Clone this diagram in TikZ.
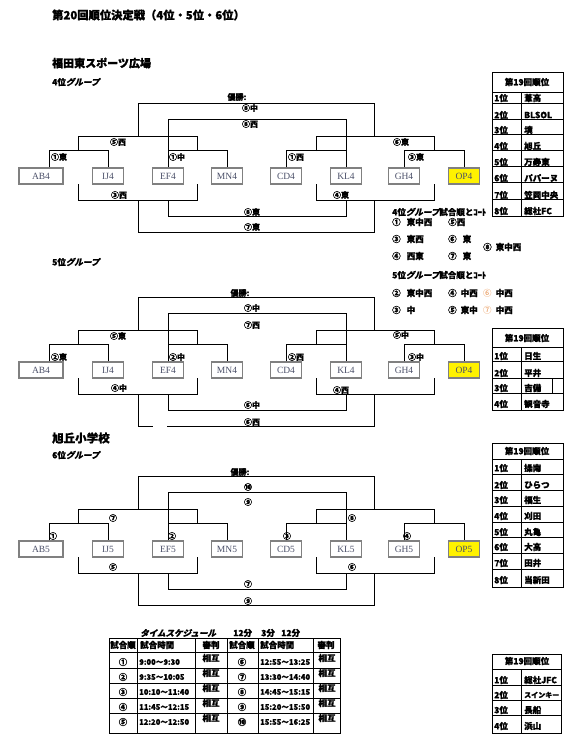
\documentclass[tikz,border=0pt]{standalone}
\usepackage{fontspec}
\newfontfamily\jp{Noto Sans CJK JP}[BoldFeatures={FakeBold=1.2}]
\newfontfamily\jpsl{Noto Sans CJK JP}[FakeSlant=0.25, BoldFeatures={FakeBold=1.2}]
\newfontfamily\tm{Liberation Serif}
\definecolor{teamtxt}{RGB}{75,80,105}
\definecolor{boxline}{RGB}{128,128,128}
\definecolor{ordcol}{RGB}{230,140,70}

\tikzset{
  team/.style={draw=boxline, line width=1.4pt, fill=white, minimum width=31pt,
    minimum height=16pt, inner sep=0pt, text=teamtxt, font=\tm\fontsize{9.5}{10}\selectfont},
  win/.style={team, fill=yellow},
  lbl/.style={inner sep=0pt, font=\jp\bfseries\fontsize{8}{8}\selectfont},
  head/.style={inner sep=0pt, anchor=west, font=\jp\bfseries\fontsize{11.3}{12}\selectfont},
  sub/.style={inner sep=0pt, anchor=west, font=\jp\bfseries\fontsize{8.5}{9}\selectfont},
  cell/.style={inner sep=0pt, font=\jp\bfseries\fontsize{8.5}{9}\selectfont},
  clock/.style={cell, anchor=west, font=\jp\bfseries\fontsize{7.6}{8}\selectfont},
  link/.style={line width=0.8pt},
  grid/.style={line width=0.8pt},
}

% one bracket: #1 prefix, #2 number on the boxes, #3 shift down, #4 start of last line
\newcommand{\drawgroup}[4]{%
  \begin{scope}[yshift=-#3pt]
    % Define nodes
    \node[team, minimum width=44pt] (#1ab) at (41,176) {AB#2};
    \node[team] (#1ij) at (108,176) {IJ#2};
    \node[team] (#1ef) at (168,176) {EF#2};
    \node[team] (#1mn) at (227,176) {MN#2};
    \node[team] (#1cd) at (286,176) {CD#2};
    \node[team] (#1kl) at (346,176) {KL#2};
    \node[team] (#1gh) at (404,176) {GH#2};
    \node[win] (#1op) at (464,176) {OP#2};
    \path (78.5,151) coordinate (#1j1) (197.5,151) coordinate (#1j2)
          (316,151) coordinate (#1j3) (434,151) coordinate (#1j4)
          (78.5,184) coordinate (#1f1) (197.5,184) coordinate (#1f2)
          (316,184) coordinate (#1f3) (434,184) coordinate (#1f4);
    % Connect nodes
    \draw[link] ([xshift=8pt]#1ab.north) -- ++(0,-17) -| (#1ij.north);
    \draw[link] (#1ef.north) -- ++(0,-17) -| (#1mn.north);
    \draw[link] (#1cd.north) -- ++(0,-17) -| (#1kl.north);
    \draw[link] (#1gh.north) -- ++(0,-17) -| (#1op.north);
    \draw[link] (#1j1) -- ++(0,-15) -| (#1j2);
    \draw[link] (#1j3) -- ++(0,-15) -| (#1j4);
    \draw[link] (138,136) |- (374,103) -- (374,136);
    \draw[link] (168,151) |- (346,119) -- (346,151);
    \draw[link] (#1f1) -- ++(0,16) -| (#1f2);
    \draw[link] (#1f3) -- ++(0,16) -| (#1f4);
    \draw[link] (168,200) |- (346,216) -- (346,200);
    \draw[link] (138,200) |- (153,232);
    \draw[link] (#4,232) -| (374,200);
  \end{scope}
}

\begin{document}
\begin{tikzpicture}[x=1pt,y=-1pt]
  \useasboundingbox (0,0) rectangle (571,749);

  % Headings
  \node[head] (title) at (52,15) {第20回順位決定戦（4位・5位・6位）};
  \node[head, font=\jp\bfseries\fontsize{11}{12}\selectfont] (place1) at (52,63) {福田東スポーツ広場};
  \node[sub] (g4) at (52,82) {4位{\jpsl\bfseries グループ}};
  \node[sub] (g5) at (52,262) {5位{\jpsl\bfseries グループ}};
  \node[head, font=\jp\bfseries\fontsize{11.5}{12}\selectfont] (place2) at (52,438) {旭丘小学校};
  \node[sub] (g6) at (52,455) {6位{\jpsl\bfseries グループ}};

  % Brackets
  \drawgroup{a}{4}{0}{153}
  \drawgroup{b}{4}{194}{167}
  \drawgroup{c}{5}{373}{153}

  % Match labels
  \foreach \t/\x/\y [count=\i] in {優勝:/237/97, ⑧中/250/108, ⑧西/250/124,
      ⑤西/118/142, ⑥東/401/142, ①東/59/157, ①中/177/157, ①西/296/157,
      ③東/416/157, ③西/119/195, ④東/341/195, ⑧東/252/212, ⑦東/252/227}
    \node[lbl] (la\i) at (\x,\y) {\t};
  \foreach \t/\x/\y [count=\i] in {優勝:/240/293, ⑦中/252/308, ⑦西/252/325,
      ⑤東/118/336, ⑤中/401/335, ②東/59/357, ②中/177/357, ②西/296/357,
      ③中/416/357, ④中/119/388, ④西/341/390, ⑥中/252/405, ⑥西/252/422}
    \node[lbl] (lb\i) at (\x,\y) {\t};
  \foreach \t/\x/\y [count=\i] in {優勝:/240/472, ⑩/248/487, ⑨/248/502,
      ⑦/113/518, ⑧/352/518, ①/53/536, ②/172/536, ③/287/536, ④/407/536,
      ⑤/113/567, ⑥/352/567, ⑦/248/584, ⑨/248/601}
    \node[lbl] (lc\i) at (\x,\y) {\t};

  % Match order and courts
  \node[sub] (k4) at (392,212) {4位{\jpsl\bfseries グループ}試合順とｺｰﾄ};
  \node[sub] (k4a) at (392,222) {①\hspace{6pt}東中西};
  \node[sub] (k4b) at (448,222) {⑤西};
  \node[sub] (k4c) at (392,239) {③\hspace{6pt}東西};
  \node[sub] (k4d) at (448,239) {⑥\hspace{6pt}東};
  \node[sub] (k4e) at (392,256) {④\hspace{6pt}西東};
  \node[sub] (k4f) at (448,256) {⑦\hspace{6pt}東};
  \node[sub] (k4g) at (483,247) {⑧\hspace{4pt}東中西};
  \node[sub] (k5) at (392,275) {5位{\jpsl\bfseries グループ}試合順とｺｰﾄ};
  \node[sub] (k5a) at (392,293) {②\hspace{6pt}東中西};
  \node[sub] (k5b) at (448,293) {④\hspace{4pt}中西};
  \node[sub] (k5c) at (483,293) {{\color{ordcol}\mdseries ⑥}\hspace{4pt}中西};
  \node[sub] (k5d) at (392,310) {③\hspace{6pt}中};
  \node[sub] (k5e) at (448,310) {⑤\hspace{4pt}東中};
  \node[sub] (k5f) at (483,310) {{\color{ordcol}\mdseries ⑦}\hspace{4pt}中西};

  % Last year's ranking tables
  \draw[grid] (492,72) rectangle (563,216) (492,92) -- (563,92) (521,92) -- (521,216);
  \foreach \y in {103,119,134,150,166,182,199} \draw[grid] (492,\y) -- (563,\y);
  \node[cell] (ta) at (527,82) {第19回順位};
  \foreach \r/\n/\y [count=\i] in {1位/葦高/98, 2位/BLSOL/115, 3位/境/130, 4位/旭丘/146,
      5位/万寿東/162, 6位/パパーヌ/178, 7位/笠岡中央/195, 8位/総社FC/211} {
    \node[cell, anchor=west] (ta\i) at (494,\y) {\r};
    \node[cell, anchor=west] (tan\i) at (524,\y) {\n};
  }

  \draw[grid] (492,328) rectangle (563,410) (492,347) -- (563,347) (521,347) -- (521,410)
    (552,378) -- (552,393);
  \foreach \y in {361,378,393} \draw[grid] (492,\y) -- (563,\y);
  \node[cell] (tb) at (527,338) {第19回順位};
  \foreach \r/\n/\y [count=\i] in {1位/日生/356, 2位/平井/373, 3位/吉備/388, 4位/観音寺/404} {
    \node[cell, anchor=west] (tb\i) at (494,\y) {\r};
    \node[cell, anchor=west] (tbn\i) at (524,\y) {\n};
  }

  \draw[grid] (492,443) rectangle (563,587) (492,459) -- (563,459) (521,459) -- (521,587);
  \foreach \y in {474,490,506,522,537,553,569} \draw[grid] (492,\y) -- (563,\y);
  \node[cell] (tc) at (527,451) {第19回順位};
  \foreach \r/\n/\y [count=\i] in {1位/操南/468, 2位/ひらつ/485, 3位/福生/500, 4位/刈田/516,
      5位/丸亀/532, 6位/大高/547, 7位/田井/563, 8位/当新田/580} {
    \node[cell, anchor=west] (tc\i) at (494,\y) {\r};
    \node[cell, anchor=west] (tcn\i) at (524,\y) {\n};
  }

  \draw[grid] (492,654) rectangle (561,733) (492,669) -- (561,669) (521,669) -- (521,733);
  \foreach \y in {685,700,715} \draw[grid] (492,\y) -- (561,\y);
  \node[cell] (td) at (527,661) {第19回順位};
  \foreach \r/\n/\y [count=\i] in {1位/総社JFC/680, 2位/{\fontsize{7}{8}\selectfont スインキー}/695,
      3位/長船/710, 4位/浜山/726} {
    \node[cell, anchor=west] (td\i) at (494,\y) {\r};
    \node[cell, anchor=west] (tdn\i) at (524,\y) {\n};
  }

  % Time schedule
  \node[sub] (ts) at (140,633) {\jpsl\bfseries タイムスケジュール};
  \node[sub] (tsa) at (233,633) {12分};
  \node[sub] (tsb) at (261,633) {3分};
  \node[sub] (tsc) at (281,633) {12分};
  \draw[grid] (109,638) rectangle (340,733) (109,652) -- (340,652);
  \foreach \x in {137,195,227,258,313} \draw[grid] (\x,638) -- (\x,733);
  \foreach \y in {668,683,698,713} \draw[grid] (109,\y) -- (340,\y);
  \node[cell] (h1) at (123,645) {試合順};
  \node[cell, anchor=west] (h2) at (140,645) {試合時間};
  \node[cell] (h3) at (211,645) {審判};
  \node[cell] (h4) at (242,645) {試合順};
  \node[cell, anchor=west] (h5) at (260,645) {試合時間};
  \node[cell] (h6) at (326,645) {審判};
  \foreach \a/\b/\c/\d/\y [count=\i] in {①/9:00〜9:30/⑥/12:55〜13:25/662,
      ②/9:35〜10:05/⑦/13:30〜14:40/677, ③/10:10〜11:40/⑧/14:45〜15:15/692,
      ④/11:45〜12:15/⑨/15:20〜15:50/707, ⑤/12:20〜12:50/⑩/15:55〜16:25/722} {
    \node[cell] (sa\i) at (123,\y) {\a};
    \node[clock] (sb\i) at (139,\y) {\b};
    \node[cell] (sc\i) at (211,\y-4) {相互};
    \node[cell] (sd\i) at (242,\y) {\c};
    \node[clock] (se\i) at (260,\y) {\d};
    \node[cell] (sf\i) at (327,\y-4) {相互};
  }
\end{tikzpicture}
\end{document}
